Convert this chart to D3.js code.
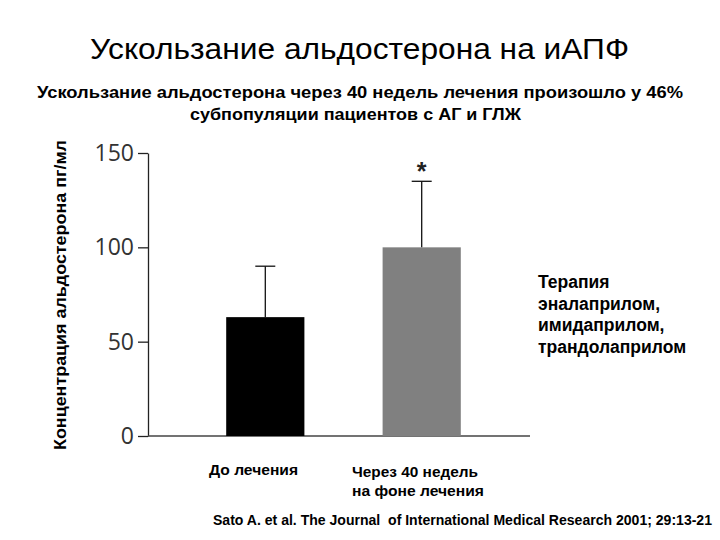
<!DOCTYPE html>
<html><head><meta charset="utf-8">
<script src="https://cdn.jsdelivr.net/npm/d3@7"></script>
<style>body{margin:0;background:#fff}svg{display:block}</style>
</head><body>
<script>
const categories = ["До лечения", "Через 40 недель на фоне лечения"];
const values = [63, 100];
const errorTops = [90, 135];
const barColors = ["#000000", "#808080"];
const yTicks = [0, 50, 100, 150];

const W = 720, H = 540;
const svg = d3.select("body").append("svg").attr("width", W).attr("height", H);
const F = "Liberation Sans, Arial, sans-serif";

const y = d3.scaleLinear().domain([0, 150]).range([436, 153]);
const x = d3.scaleBand().domain(categories).range([148, 539]).paddingInner(0.5).paddingOuter(0.5);

// Title
svg.append("text").attr("x", 90).attr("y", 59)
  .attr("textLength", 539).attr("lengthAdjust", "spacingAndGlyphs")
  .style("font-family", F).style("font-size", "30px").attr("fill", "#000")
  .text("Ускользание альдостерона на иАПФ");
const sub = svg.append("text")
  .style("font-family", F).style("font-size", "17px").style("font-weight", "bold");
sub.append("tspan").attr("x", 37).attr("y", 98).attr("textLength", 646).attr("lengthAdjust", "spacingAndGlyphs")
  .text("Ускользание альдостерона через 40 недель лечения произошло у 46%");
sub.append("tspan").attr("x", 190).attr("y", 120).attr("textLength", 331).attr("lengthAdjust", "spacingAndGlyphs")
  .text("субпопуляции пациентов с АГ и ГЛЖ");

// Y axis
const yAxis = svg.append("g").attr("transform", "translate(148,0)")
  .call(d3.axisLeft(y).tickValues(yTicks).tickSize(10).tickSizeOuter(0).tickPadding(4));
yAxis.select(".domain").attr("stroke", "#222").attr("stroke-width", 1.3);
yAxis.selectAll(".tick line").attr("stroke", "#222").attr("stroke-width", 1.3);
yAxis.selectAll(".tick text").style("font-family", "Open Sans, sans-serif").style("font-size", "23px")
  .attr("fill", "#333");

// Baseline
svg.append("line").attr("x1", 148).attr("x2", 530).attr("y1", y(0)).attr("y2", y(0))
  .attr("stroke", "#444").attr("stroke-width", 1.3);

// Bars
svg.selectAll("rect.bar").data(categories).enter().append("rect")
  .attr("x", d => x(d)).attr("width", x.bandwidth())
  .attr("y", (d, i) => y(values[i])).attr("height", (d, i) => y(0) - y(values[i]))
  .attr("fill", (d, i) => barColors[i]);

// Error bars
const cx = d => x(d) + x.bandwidth() / 2;
const eb = svg.selectAll("g.err").data(categories).enter().append("g");
eb.append("line").attr("x1", cx).attr("x2", cx)
  .attr("y1", (d, i) => y(values[i])).attr("y2", (d, i) => y(errorTops[i]))
  .attr("stroke", "#111").attr("stroke-width", 1.3);
eb.append("line").attr("x1", d => cx(d) - 10).attr("x2", d => cx(d) + 10)
  .attr("y1", (d, i) => y(errorTops[i])).attr("y2", (d, i) => y(errorTops[i]))
  .attr("stroke", "#111").attr("stroke-width", 1.3);

// Star
svg.append("text").attr("x", cx(categories[1])).attr("y", y(errorTops[1]) - 1)
  .attr("text-anchor", "middle").style("font-family", F).style("font-size", "25px").style("font-weight", "bold")
  .attr("fill", "#222").text("*");

// Y label
svg.append("text").attr("transform", "translate(66,295) rotate(-90)").attr("text-anchor", "middle")
  .attr("textLength", 310).attr("lengthAdjust", "spacingAndGlyphs")
  .style("font-family", F).style("font-size", "16.5px").style("font-weight", "bold")
  .text("Концентрация альдостерона пг/мл");

// Category labels
svg.append("text").attr("x", 209).attr("y", 475).attr("textLength", 89).attr("lengthAdjust", "spacingAndGlyphs")
  .style("font-family", F).style("font-size", "15.5px").style("font-weight", "bold").text(categories[0]);
const c2 = svg.append("text").style("font-family", F).style("font-size", "15.5px").style("font-weight", "bold");
c2.append("tspan").attr("x", 352).attr("y", 477).attr("textLength", 126).attr("lengthAdjust", "spacingAndGlyphs").text("Через 40 недель");
c2.append("tspan").attr("x", 352).attr("y", 496).attr("textLength", 132).attr("lengthAdjust", "spacingAndGlyphs").text("на фоне лечения");

// Right note
const note = svg.append("text").style("font-family", F).style("font-size", "17.5px").style("font-weight", "bold");
["Терапия", "эналаприлом,", "имидаприлом,", "трандолаприлом"].forEach((t, i) =>
  note.append("tspan").attr("x", 538).attr("y", 288 + i * 21.5).text(t));

// Footer
svg.append("text").attr("x", 213).attr("y", 525).attr("textLength", 499).attr("lengthAdjust", "spacingAndGlyphs")
  .style("font-family", F).style("font-size", "14px")
  .style("font-weight", "bold").attr("xml:space", "preserve")
  .text("Sato A. et al. The Journal  of International Medical Research 2001; 29:13-21");
</script>
</body></html>
